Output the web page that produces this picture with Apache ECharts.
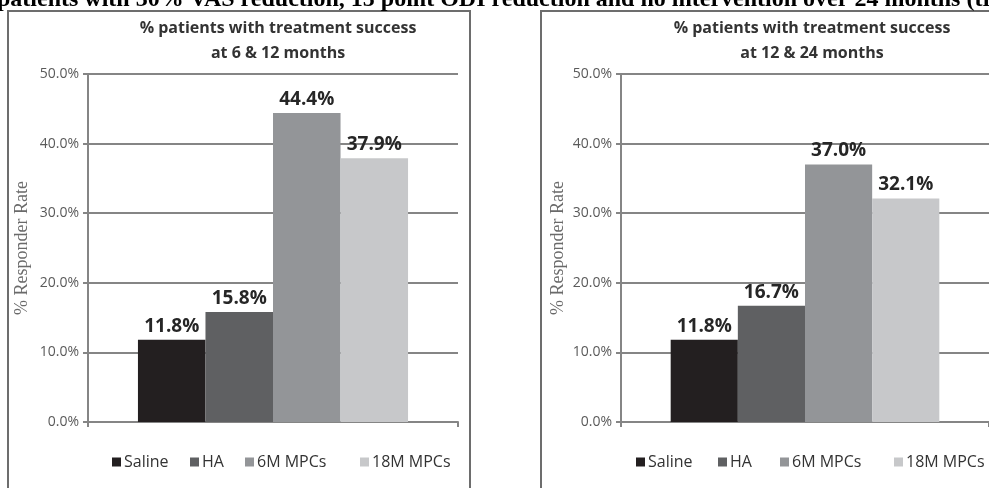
<!DOCTYPE html>
<html><head><meta charset="utf-8">
<script src="https://cdn.jsdelivr.net/npm/echarts@6/dist/echarts.min.js"></script>
<style>html,body{margin:0;padding:0;background:#fff}#c{width:989px;height:488px}</style>
</head><body><div id="c"></div>
<script>
var categories = ['Saline', 'HA', '6M MPCs', '18M MPCs'];
var panel1 = [11.8, 15.8, 44.4, 37.9];
var panel2 = [11.8, 16.7, 37.0, 32.1];
var yTicks = [0, 10, 20, 30, 40, 50];
var colors = ['#231f20', '#5f6062', '#939598', '#c7c8ca'];
var mainTitle = 'patients with 30% VAS reduction, 15 point ODI reduction and no intervention over 24 months (tr';
var panelTitles = ['% patients with treatment success\nat 6 & 12 months', '% patients with treatment success\nat 12 & 24 months'];
var yName = '% Responder Rate';

var sans = 'Open Sans';
var chart = echarts.init(document.getElementById('c'));

function yAxis(idx, gap) {
  return {
    type: 'value', gridIndex: idx, min: yTicks[0], max: yTicks[yTicks.length - 1], interval: 10,
    name: yName, nameLocation: 'middle', nameGap: gap,
    nameTextStyle: { fontFamily: 'Liberation Serif', fontSize: 18, color: '#6a6a6a' },
    axisLine: { show: true, lineStyle: { color: '#858585', width: 2 } },
    axisTick: { show: true, length: 5, lineStyle: { color: '#858585', width: 2 } },
    axisLabel: { fontFamily: sans, fontSize: 14, color: '#5a5a5a', margin: 9,
      formatter: function (v) { return v.toFixed(1) + '%'; } },
    splitLine: { lineStyle: { color: '#858585', width: 2 } }
  };
}
function xAxis(idx) {
  return {
    type: 'category', gridIndex: idx, data: [''],
    axisLine: { show: true, lineStyle: { color: '#858585', width: 2 } },
    axisTick: { show: true, length: 5, lineStyle: { color: '#858585', width: 2 } },
    axisLabel: { show: false }
  };
}
var series = [];
[panel1, panel2].forEach(function (vals, g) {
  categories.forEach(function (name, i) {
    series.push({
      type: 'bar', name: name, xAxisIndex: g, yAxisIndex: g,
      data: [vals[i]], barGap: '0%', barCategoryGap: '27%',
      itemStyle: { color: colors[i] },
      label: { show: true, position: 'top', distance: 4, fontFamily: sans, fontSize: 19,
        fontWeight: 'bold', color: '#262626',
        formatter: function (p) { return p.value.toFixed(1) + '%'; } }
    });
  });
});
var legendLefts = [[107, 185, 240, 355], [631, 713, 775, 889]];
var legends = [];
legendLefts.forEach(function (arr) {
  arr.forEach(function (x, i) {
    legends.push({ data: [categories[i]], left: x, top: 449, itemWidth: 9, itemHeight: 9,
      icon: 'rect', itemGap: 0, textStyle: { fontFamily: sans, fontSize: 16, color: '#333', padding: [0, 0, 0, -2] } });
  });
});

chart.setOption({
  animation: false,
  color: colors,
  title: [
    { text: panelTitles[0], left: 273, textAlign: 'center', top: 11,
      textStyle: { fontFamily: sans, fontSize: 16, fontWeight: 'bold', color: '#333', lineHeight: 25 } },
    { text: panelTitles[1], left: 807, textAlign: 'center', top: 11,
      textStyle: { fontFamily: sans, fontSize: 16, fontWeight: 'bold', color: '#333', lineHeight: 25 } }
  ],
  legend: legends,
  grid: [
    { left: 88, top: 74, width: 370, height: 348 },
    { left: 621, top: 74, width: 370, height: 348 }
  ],
  xAxis: [xAxis(0), xAxis(1)],
  yAxis: [yAxis(0, 57), yAxis(1, 54)],
  series: series,
  graphic: [
    { type: 'rect', shape: { x: 8, y: 11, width: 462, height: 500 },
      style: { fill: '#fff', stroke: '#6d6d6d', lineWidth: 2 }, silent: true, z: -10 },
    { type: 'rect', shape: { x: 541, y: 11, width: 500, height: 500 },
      style: { fill: '#fff', stroke: '#6d6d6d', lineWidth: 2 }, silent: true, z: -10 },
    { type: 'text', left: -3, top: -12, silent: true, z: 10,
      style: { text: mainTitle, font: 'bold 24px "Liberation Serif"', fill: '#000' } }
  ]
});
</script></body></html>
